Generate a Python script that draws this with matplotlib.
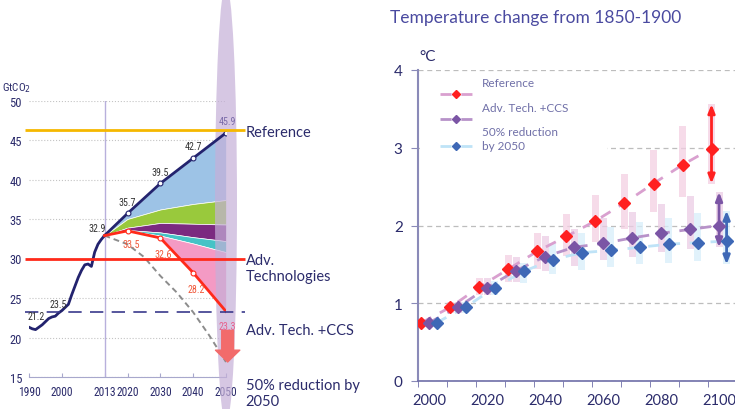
import numpy as np
import matplotlib
matplotlib.use("Agg")
import matplotlib.pyplot as plt
from matplotlib.patches import Ellipse, Rectangle

plt.rcParams['font.family'] = ['Lato', 'DejaVu Sans']
NARROW = ['Liberation Sans Narrow', 'Roboto Condensed', 'Lato']

NAVY = '#23236e'
TXT = '#2b2b6b'

# ---- left: CO2 emissions, GtCO2 ----
hist_years = [1990, 1991, 1992, 1993, 1994, 1995, 1996, 1997, 1998, 1999, 2000, 2001,
              2002, 2003, 2004, 2005, 2006, 2007, 2008, 2009, 2010, 2011, 2012, 2013]
hist_em = [21.3, 21.1, 21.0, 21.3, 21.6, 22.0, 22.4, 22.6, 22.7, 23.1, 23.4, 23.8,
           24.2, 25.4, 26.5, 27.6, 28.5, 29.2, 29.3, 29.0, 30.8, 31.8, 32.4, 32.9]

proj_years = [2013, 2020, 2030, 2040, 2050]
ref_em = [32.9, 35.7, 39.5, 42.7, 45.9]
green_top = [32.9, 35.0, 36.2, 36.9, 37.4]
purple_top = [32.9, 33.9, 34.5, 34.4, 34.3]
cyan_top = [32.9, 33.6, 33.3, 32.7, 32.2]
pink_top = [32.9, 33.55, 32.9, 31.9, 30.8]
ccs_em = [32.9, 33.5, 32.6, 28.2, 23.3]

half_years = [2013, 2020, 2025, 2030, 2035, 2040, 2045, 2050]
half_em = [32.9, 31.8, 30.2, 27.8, 25.7, 23.2, 20.2, 16.9]

ref_level = 46.3
adv_level = 30.0
ccs_level = 23.25

# ---- right: temperature change from 1850-1900 ----
decades = [2000, 2010, 2020, 2030, 2040, 2050, 2060, 2070, 2080, 2090, 2100]
t_ref = [0.75, 0.95, 1.21, 1.44, 1.67, 1.86, 2.06, 2.29, 2.54, 2.78, 2.99]
t_adv = [0.75, 0.95, 1.20, 1.42, 1.60, 1.72, 1.77, 1.84, 1.90, 1.95, 2.00]
t_half = [0.75, 0.95, 1.20, 1.41, 1.56, 1.65, 1.68, 1.72, 1.76, 1.78, 1.80]
ref_lo = [0.75, 0.88, 1.10, 1.27, 1.44, 1.61, 1.79, 1.96, 2.17, 2.37, 2.54]
ref_hi = [0.75, 1.02, 1.33, 1.62, 1.90, 2.15, 2.39, 2.66, 2.97, 3.28, 3.56]
adv_lo = [0.75, 0.88, 1.10, 1.27, 1.42, 1.48, 1.55, 1.60, 1.66, 1.70, 1.72]
adv_hi = [0.75, 1.02, 1.32, 1.60, 1.86, 1.95, 2.10, 2.18, 2.28, 2.38, 2.43]
half_lo = [0.75, 0.88, 1.10, 1.26, 1.38, 1.43, 1.46, 1.50, 1.52, 1.54, 1.50]
half_hi = [0.75, 1.02, 1.28, 1.52, 1.78, 1.90, 1.98, 2.04, 2.10, 2.16, 2.19]

fig = plt.figure(figsize=(7.35, 4.1), dpi=100)

# ================= left chart =================
ax = fig.add_axes([29 / 735, 32 / 410, 197 / 735, 276.5 / 410])
ax.set_xlim(1990, 2050)
ax.set_ylim(15, 50)

layers = [(ref_em, green_top, '#9dc3e6'), (green_top, purple_top, '#99c93c'),
          (purple_top, cyan_top, '#7b2a80'), (cyan_top, pink_top, '#45c3c6'),
          (pink_top, ccs_em, '#f49ac4')]
for top, bot, c in layers:
    ax.fill_between(proj_years, bot, top, facecolor=c, edgecolor='white', lw=0.5, zorder=2)

ax.axvline(2013, color='#b8b0dc', lw=1, zorder=1)
ax.plot(half_years, half_em, color='#8c8c8c', ls=(0, (3, 2)), lw=1.4, zorder=4)
ax.plot(hist_years, hist_em, color=NAVY, lw=2, zorder=5)
ax.plot(proj_years, ref_em, color=NAVY, lw=2, marker='o', ms=3.5, mfc='white',
        mec=NAVY, mew=0.8, markevery=[1, 2, 3, 4], zorder=5)
ax.plot(proj_years, ccs_em, color='#ff2a1a', lw=2, marker='o', ms=3.5, mfc='white',
        mec='#ff2a1a', mew=0.8, markevery=[1, 2, 3], zorder=5)

ax.add_patch(Ellipse((2050, 36.9), 6.7, 55.7, facecolor='#c5b0d8', alpha=0.7,
                     edgecolor='none', clip_on=False, zorder=3))

ax.hlines(ref_level, 1988.8, 2055.9, color='#f5b800', lw=2, clip_on=False, zorder=6)
ax.hlines(adv_level, 1988.8, 2055.9, color='#ff2a1a', lw=2, clip_on=False, zorder=6)
ax.hlines(ccs_level, 1988.8, 2055.9, color='#3a3a8c', lw=1.2, ls=(0, (8, 5)),
          clip_on=False, zorder=6)

ax.annotate('', xy=(2050.5, 16.9), xytext=(2050.5, 20.9),
            arrowprops=dict(arrowstyle='simple,head_length=0.85,head_width=1.75,tail_width=0.85',
                            mutation_scale=10, color='#f26b6b', shrinkA=0, shrinkB=0),
            zorder=7, annotation_clip=False)

lbl = dict(fontsize=7.2, family=NARROW, ha='center', va='center', zorder=8)
ax.text(1992.3, 22.7, '21.2', color='#333333', **lbl)
ax.text(1998.9, 24.2, '23.5', color='#333333', **lbl)
ax.text(2010.8, 33.9, '32.9', color='#333333', **lbl)
for yr, v in zip(proj_years[1:4], ref_em[1:4]):
    ax.text(yr, v + 1.5, f'{v:.1f}', color='#333333', **lbl)
ax.text(2050.3, ref_em[-1] + 1.5, f'{ref_em[-1]:.1f}', color='#7a6aa8', **lbl)
red_dy = [-1.7, -2.0, -2.0]
for yr, v, d in zip(proj_years[1:4], ccs_em[1:4], red_dy):
    ax.text(yr + 1.0, v + d, f'{v:.1f}', color='#f0583a', **lbl)
ax.text(2050.3, ccs_em[-1] - 1.8, f'{ccs_em[-1]:.1f}', color='#e8608c', **lbl)

for s in ['top', 'right', 'left']:
    ax.spines[s].set_visible(False)
ax.spines['bottom'].set_color('#a8a8cc')
ax.set_xticks([1990, 2000, 2013, 2020, 2030, 2040, 2050])
ax.set_yticks([15, 20, 25, 30, 35, 40, 45, 50])
ax.tick_params(axis='x', direction='in', length=3, color='#a8a8cc', pad=6,
               labelsize=8.3, labelcolor=TXT)
ax.tick_params(axis='y', length=0, pad=5, labelsize=9, labelcolor=TXT)
for t in ax.get_xticklabels() + ax.get_yticklabels():
    t.set_family(NARROW)
ax.yaxis.grid(True, ls=':', color='#c4c4c4', lw=0.8)
ax.set_axisbelow(True)
fig.text(17 / 735, 1 - 88 / 410, 'GtCO$_2$', ha='center', va='center', fontsize=8,
         color=TXT, family=NARROW)

side = dict(fontsize=10.5, color=TXT, va='center')
fig.text(245.5 / 735, 1 - 133 / 410, 'Reference', **side)
fig.text(245.5 / 735, 1 - 269 / 410, 'Adv.\nTechnologies', linespacing=1.15, **side)
fig.text(245.5 / 735, 1 - 331 / 410, 'Adv. Tech. +CCS', **side)
fig.text(245.5 / 735, 1 - 394 / 410, '50% reduction by\n2050', linespacing=1.15, **side)

# ================= right chart =================
ax2 = fig.add_axes([418 / 735, 28 / 410, 317 / 735, 311 / 410])
ax2.set_xlim(1996.2, 2105.5)
ax2.set_ylim(0, 4)

dec = np.array(decades, dtype=float)
series = [
    (dec - 2.6, t_ref, ref_lo, ref_hi, '#ff2020', '#d9a0cf', '#f3cfe2', 'Reference'),
    (dec, t_adv, adv_lo, adv_hi, '#7b55a5', '#b792c9', '#ebcde5', 'Adv. Tech. +CCS'),
    (dec + 2.6, t_half, half_lo, half_hi, '#3e68b6', '#bfe3f7', '#d8eefa', '50% reduction\nby 2050'),
]
for x, v, lo, hi, mc, lc, bc, _ in series:
    ax2.bar(x, np.array(hi) - np.array(lo), bottom=lo, width=2.4, color=bc,
            alpha=0.75, zorder=2)
for x, v, lo, hi, mc, lc, bc, _ in series:
    ax2.plot(x, v, color=lc, lw=2, ls=(0, (4, 3.5)), zorder=3)
for x, v, lo, hi, mc, lc, bc, _ in series:
    ax2.annotate('', xy=(x[-1], hi[-1]), xytext=(x[-1], lo[-1]),
                 arrowprops=dict(arrowstyle='<|-|>,head_length=0.5,head_width=0.2',
                                 color=mc, lw=2, shrinkA=0, shrinkB=0), zorder=4)
    ax2.plot(x, v, ls='none', marker='D', ms=5.8, color=mc, zorder=5)

ax2.add_patch(Rectangle((0.006, 0.70), 0.59, 0.28, transform=ax2.transAxes,
                        facecolor='white', edgecolor='none', zorder=1.6))
leg_y = [0.923, 0.842, 0.756]
lab_y = [0.961, 0.881, 0.780]
for (x, v, lo, hi, mc, lc, bc, name), ly, ty in zip(series, leg_y, lab_y):
    ax2.plot([0.069, 0.17], [ly, ly], transform=ax2.transAxes, color=lc, lw=2,
             ls=(0, (4, 3.5)), zorder=3)
    ax2.plot([0.1195], [ly], transform=ax2.transAxes, marker='D', ms=4.5, color=mc,
             ls='none', zorder=4)
    ax2.text(0.202, ty, name, transform=ax2.transAxes, fontsize=8.5, color='#7070a8',
             va='center', linespacing=1.35, zorder=4)

for s in ['top', 'right']:
    ax2.spines[s].set_visible(False)
ax2.spines['left'].set_color('#8a8ab8')
ax2.spines['left'].set_linewidth(1.5)
ax2.spines['bottom'].set_color('#6e6ea8')
ax2.spines['bottom'].set_linewidth(1.2)
ax2.set_yticks([0, 1, 2, 3, 4])
ax2.set_xticks([2000, 2020, 2040, 2060, 2080, 2100])
ax2.set_xticks(np.arange(1996.2, 2106, 10), minor=True)
ax2.tick_params(axis='y', direction='out', length=5, color='#8a8ab8', pad=6,
                labelsize=11, labelcolor=TXT)
ax2.tick_params(axis='x', which='major', length=0, pad=9, labelsize=10.5, labelcolor=TXT)
ax2.tick_params(axis='x', which='minor', direction='out', length=4, color='#6e6ea8')
ax2.yaxis.grid(True, ls=(0, (4, 3)), color='#bdbdbd', lw=0.9)
ax2.set_axisbelow(True)

fig.text(390 / 735, 1 - 18 / 410, 'Temperature change from 1850-1900', fontsize=12.5,
         color='#4a4aa0', va='center')
fig.text(428 / 735, 1 - 57 / 410, '°C', ha='center', va='center', fontsize=11, color=TXT)

fig.savefig('out.png', dpi=100)
